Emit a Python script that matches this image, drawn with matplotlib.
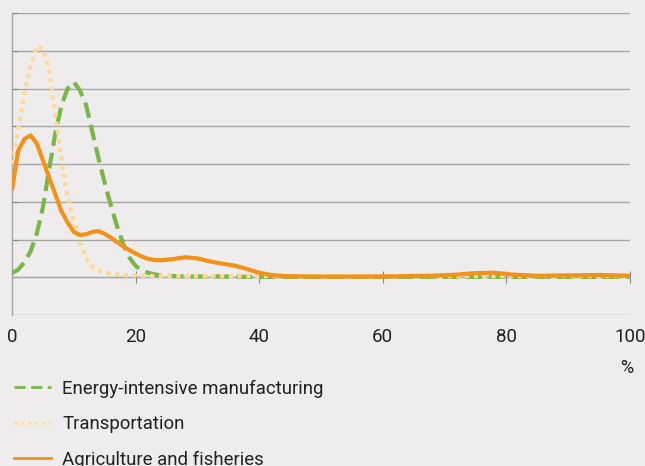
import matplotlib.pyplot as plt
from matplotlib.lines import Line2D

plt.rcParams['font.family'] = ['Roboto', 'DejaVu Sans']

# shared x grid (%)
x = [0, 1, 2, 3, 4, 5, 6, 7, 8, 9, 10, 11, 12, 13, 14, 15, 16, 17, 18, 19, 20,
     21, 22, 23, 24, 26, 28, 30, 32, 34, 36, 38, 40, 42, 44,
     48, 52, 56, 60, 64, 68, 72, 75, 78, 81, 85, 90, 95, 100]

energy = [0.11, 0.2, 0.4, 0.68, 1.15, 1.85, 2.85, 3.8, 4.55, 5.0, 5.17, 4.95, 4.55,
          3.85, 3.15, 2.5, 1.9, 1.35, 0.88, 0.52, 0.3, 0.18, 0.12, 0.08, 0.05,
          0.03, 0.02, 0.02, 0.02, 0.02, 0.02, 0.01, 0.01, 0.01, 0.01,
          0.01, 0.01, 0.01, 0.01, 0.01, 0.01, 0.01, 0.01, 0.01, 0.01, 0.01, 0.01, 0.01, 0.01]

transport = [3.0, 3.95, 4.85, 5.6, 6.12, 6.05, 5.45, 4.35, 3.1, 2.15, 1.5, 0.95, 0.52,
             0.28, 0.18, 0.13, 0.1, 0.08, 0.06, 0.05, 0.05, 0.04, 0.04, 0.03, 0.03,
             0.03, 0.03, 0.03, 0.03, 0.03, 0.03, 0.03, 0.03, 0.03, 0.03,
             0.03, 0.03, 0.03, 0.03, 0.03, 0.03, 0.03, 0.03, 0.03, 0.03, 0.03, 0.03, 0.03, 0.03]

agri = [2.31, 3.35, 3.66, 3.76, 3.55, 3.1, 2.65, 2.2, 1.75, 1.45, 1.2, 1.12, 1.14,
        1.2, 1.22, 1.15, 1.05, 0.93, 0.82, 0.72, 0.63, 0.55, 0.49, 0.46, 0.45,
        0.48, 0.53, 0.5, 0.42, 0.36, 0.31, 0.22, 0.12, 0.06, 0.03,
        0.02, 0.02, 0.02, 0.02, 0.03, 0.04, 0.07, 0.11, 0.12, 0.07, 0.04, 0.05, 0.06, 0.04]

labels = ["Energy-intensive manufacturing", "Transportation", "Agriculture and fisheries"]
xticks = [0, 20, 40, 60, 80, 100]

bg = '#eeeced'
green = '#7ab648'
yellow = '#ffd991'
orange = '#f39218'
grid = '#a6a6a6'

fig = plt.figure(figsize=(6.45, 4.66), dpi=100, facecolor=bg)
ax = fig.add_axes([12/645, (466-315)/466, (630-12)/645, (315-13)/466])
ax.set_facecolor(bg)

ax.set_xlim(0, 100)
ax.set_ylim(-1, 7)

# gridlines
for yv in range(-1, 8):
    ax.axhline(yv, color=grid, lw=1.0, zorder=1)

ax.plot(x, energy, color=green, lw=3, linestyle=(0, (3.8, 1.7)),
        dash_capstyle='butt', zorder=3)
ax.plot(x, transport, color=yellow, lw=3, linestyle=(0, (1, 1.1)),
        dash_capstyle='butt', zorder=4)
ax.plot(x, agri, color=orange, lw=3, zorder=5, solid_capstyle='butt')

for s in ['top', 'right']:
    ax.spines[s].set_visible(False)
ax.spines['bottom'].set_position(('data', 0))
ax.spines['bottom'].set_color(grid)
ax.spines['left'].set_color(grid)
ax.spines['left'].set_linewidth(1.0)

ax.set_yticks(range(0, 8))
ax.set_yticklabels([])
ax.tick_params(axis='y', direction='in', length=4, color='#888888')
ax.set_xticks(xticks)
ax.set_xticklabels([str(v) for v in xticks])
ax.tick_params(axis='x', direction='inout', length=9, color='#888888',
               pad=32, labelsize=13.5, labelcolor='#222222')
for lab in ax.get_xticklabels():
    lab.set_clip_on(False)

fig.text(627/645, 1 - 368/466, '%', ha='center', va='center', fontsize=13, color='#222222')

handles = [
    Line2D([], [], color=green, lw=2, linestyle=(0, (4, 2))),
    Line2D([], [], color=yellow, lw=2, linestyle=(0, (1, 1.5))),
    Line2D([], [], color=orange, lw=2),
]
fig.legend(handles, labels, loc='upper left', bbox_to_anchor=(10/645, 1 - 376/466),
           frameon=False, fontsize=13.4, handlelength=2.0, handletextpad=0.6,
           labelspacing=0.93, borderaxespad=0, borderpad=0.2, labelcolor='#222222')

fig.savefig('out.png', dpi=100, facecolor=bg)
